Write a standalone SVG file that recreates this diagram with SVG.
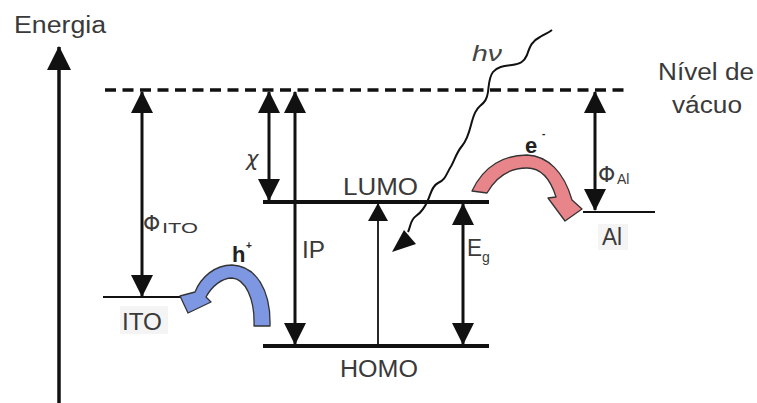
<svg xmlns="http://www.w3.org/2000/svg" width="757" height="403" viewBox="0 0 757 403">
<defs>
<marker id="ah" viewBox="0 0 22 22" markerUnits="userSpaceOnUse" markerWidth="22" markerHeight="22" refX="21" refY="11" orient="auto-start-reverse"><path d="M0,0 L22,11 L0,22 z" fill="#111"/></marker>
<marker id="ahBig" viewBox="0 0 24 24" markerUnits="userSpaceOnUse" markerWidth="24" markerHeight="24" refX="23" refY="12" orient="auto"><path d="M0,0 L24,12 L0,24 z" fill="#111"/></marker>
<marker id="ahThin" viewBox="0 0 18 20" markerUnits="userSpaceOnUse" markerWidth="18" markerHeight="20" refX="17" refY="10" orient="auto"><path d="M0,0 L18,10 L0,20 z" fill="#111"/></marker>
</defs>
<style>
.t{font-family:"Liberation Sans",Arial,sans-serif;fill:#3a3a3a;font-size:23px}
.g{font-family:"DejaVu Sans","Liberation Sans",sans-serif;fill:#3a3a3a}
.sub{font-family:"Liberation Sans",Arial,sans-serif;fill:#3a3a3a;font-size:14px}
.b{font-family:"Liberation Sans",Arial,sans-serif;fill:#222;font-size:22px;font-weight:bold}
.sup{font-family:"Liberation Sans",Arial,sans-serif;fill:#222;font-size:10px;font-weight:bold}
.lvl{stroke:#111;fill:none}
.arr{stroke:#111;stroke-width:3;fill:none}
</style>
<rect width="757" height="403" fill="#fff"/>

<g id="axis">
<line x1="59" y1="403" x2="59" y2="47" stroke="#111" stroke-width="3.5" marker-end="url(#ahBig)"/>
<text class="t" x="14" y="33" textLength="92" lengthAdjust="spacingAndGlyphs">Energia</text>
</g>

<g id="vacuum">
<line x1="105" y1="90" x2="630" y2="90" stroke="#111" stroke-width="3.5" stroke-dasharray="11 6.5"/>
<text class="t" x="658" y="80" textLength="96" lengthAdjust="spacingAndGlyphs">Nível de</text>
<text class="t" x="672" y="113" textLength="70" lengthAdjust="spacingAndGlyphs">vácuo</text>
</g>

<g id="ito">
<rect x="120" y="306" width="48" height="28" fill="#f4f4f4"/>
<line class="lvl" x1="103" y1="297" x2="181" y2="297" stroke-width="2"/>
<text class="t" x="122" y="330" textLength="40" lengthAdjust="spacingAndGlyphs">ITO</text>
</g>

<g id="lumo">
<line class="lvl" x1="263" y1="202" x2="489" y2="202" stroke-width="4"/>
<text class="t" x="343" y="195" textLength="75" lengthAdjust="spacingAndGlyphs">LUMO</text>
</g>

<g id="homo">
<line class="lvl" x1="263" y1="346" x2="489" y2="346" stroke-width="4"/>
<text class="t" x="340" y="377" textLength="78" lengthAdjust="spacingAndGlyphs">HOMO</text>
</g>

<g id="al">
<rect x="598" y="224" width="30" height="26" fill="#f4f4f4"/>
<line class="lvl" x1="583" y1="212" x2="655" y2="212" stroke-width="2"/>
<text class="t" x="602" y="245" textLength="20" lengthAdjust="spacingAndGlyphs">Al</text>
</g>

<g id="connectors">
<line class="arr" x1="142" y1="92" x2="142" y2="296" marker-start="url(#ah)" marker-end="url(#ah)"/>
<line class="arr" x1="269" y1="92" x2="269" y2="200" marker-start="url(#ah)" marker-end="url(#ah)"/>
<line class="arr" x1="295" y1="92" x2="295" y2="344" marker-start="url(#ah)" marker-end="url(#ah)"/>
<line class="arr" x1="463" y1="204" x2="463" y2="344" marker-start="url(#ah)" marker-end="url(#ah)"/>
<line class="arr" x1="595" y1="92" x2="595" y2="210" marker-start="url(#ah)" marker-end="url(#ah)"/>
<line x1="378" y1="344" x2="378" y2="204" stroke="#111" stroke-width="1.8" marker-end="url(#ahThin)"/>

<path d="M552,30 C548,33 545,34 540,37 C532,41 530,46 527,55 C524,62 520,64 512,65 C503,66 497,67 493,72 C489,77 489,84 488,92 C487,99 485,102 480,106 C474,111 473,118 471,125 C469,133 467,140 462,146 C456,153 454,162 450,168 C446,175 445,180 438,183 C432,186 431,193 428,200 C425,207 422,212 416,216 C410,220 411,226 408,232" fill="none" stroke="#111" stroke-width="2"/>
<polygon points="392,252 404,230 416,244" fill="#111"/>

<path d="M472,191 C484,165 505,155 527,155 C548,156 564,172 572,200 L582,209 L565,221 L548,198 L556,197 C551,181 542,168 527,168 C510,168 496,177 487,193 Z" fill="#e8858a" stroke="#333" stroke-width="1.3" stroke-linejoin="round"/>
<path d="M270,326 C271,290 256,266 232,265 C215,265 201,277 195,292 L180,296 L188,313 L211,302 L206,297 C212,286 222,278 232,278 C245,279 255,298 254,326 Z" fill="#7d97e3" stroke="#333" stroke-width="1.3" stroke-linejoin="round"/>
</g>

<g id="labels">
<text class="g" x="246" y="166" font-size="21" font-style="italic">χ</text>
<text class="g" x="143" y="231" font-size="22">Φ</text>
<text class="sub" x="162" y="233" textLength="36" lengthAdjust="spacingAndGlyphs">ITO</text>
<text class="t" x="302" y="258" textLength="23" lengthAdjust="spacingAndGlyphs">IP</text>
<text class="t" x="467" y="256" textLength="15" lengthAdjust="spacingAndGlyphs">E</text>
<text class="sub" x="482" y="262">g</text>
<text class="g" x="598" y="182" font-size="22">Φ</text>
<text class="sub" x="617" y="184">Al</text>
<text x="472" y="61" font-family="Liberation Sans,Arial,sans-serif" font-style="italic" font-size="22" fill="#444" textLength="30" lengthAdjust="spacingAndGlyphs">hν</text>
<text class="b" x="525" y="153">e</text>
<text class="sup" x="542" y="137">-</text>
<text class="b" x="232" y="262">h</text>
<text class="sup" x="246" y="249">+</text>
</g>
</svg>
